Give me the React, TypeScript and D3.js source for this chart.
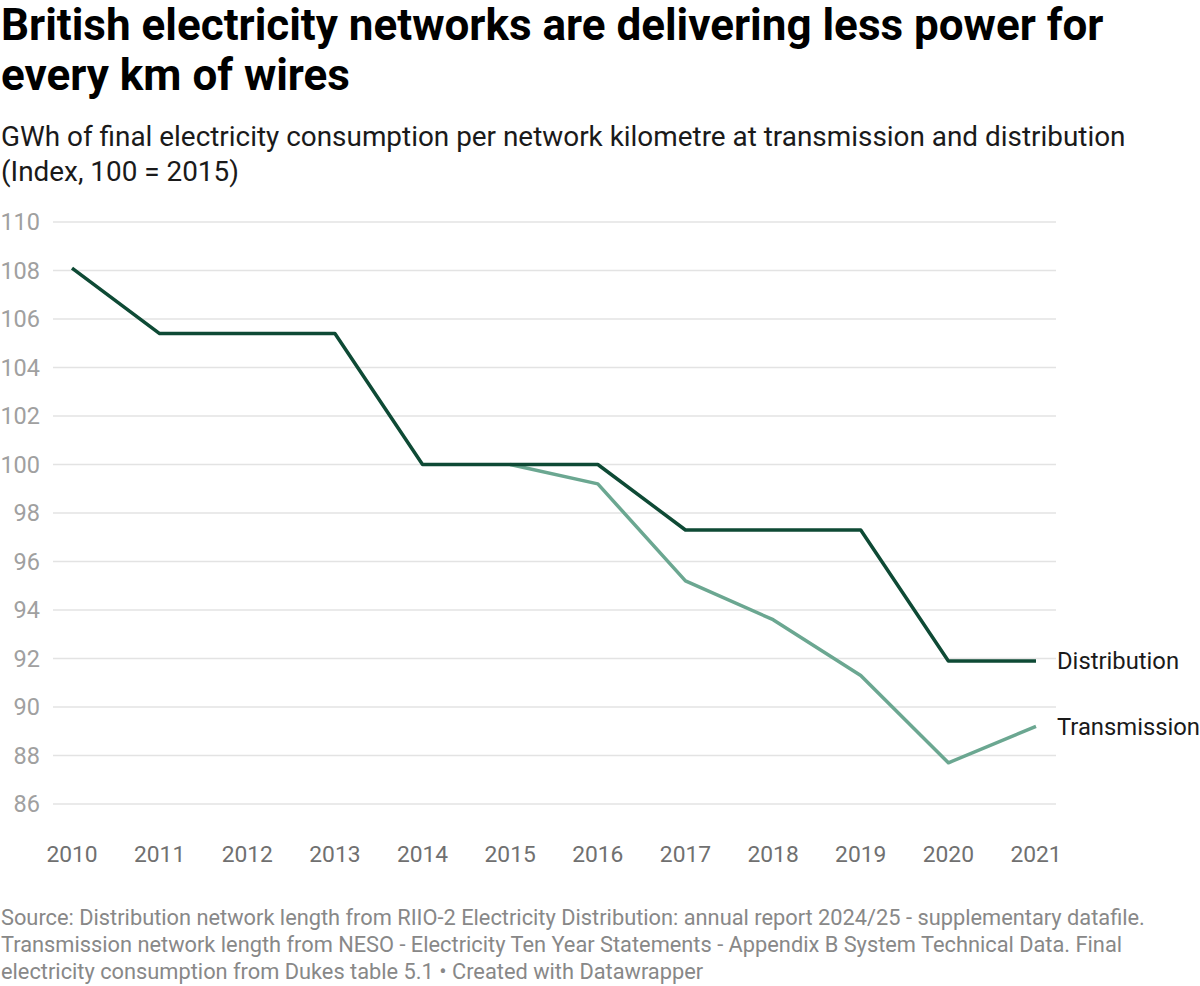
import React from 'react'
import * as d3 from 'd3'

const years = [2010, 2011, 2012, 2013, 2014, 2015, 2016, 2017, 2018, 2019, 2020, 2021]
const distribution = [108.1, 105.4, 105.4, 105.4, 100, 100, 100, 97.3, 97.3, 97.3, 91.9, 91.9]
const transmissionYears = [2015, 2016, 2017, 2018, 2019, 2020, 2021]
const transmission = [100, 99.2, 95.2, 93.6, 91.3, 87.7, 89.2]
const yTicks = [86, 88, 90, 92, 94, 96, 98, 100, 102, 104, 106, 108, 110]

const series = [
  { name: 'Distribution', years, values: distribution, color: '#0e4a35' },
  { name: 'Transmission', years: transmissionYears, values: transmission, color: '#6ba791' },
]

const App = () => {
  const width = 1200
  const height = 986
  const font = 'Roboto, sans-serif'

  const xScale = d3.scaleLinear().domain([2010, 2021]).range([72, 1036])
  const yScale = d3.scaleLinear().domain([86, 110]).range([804, 222])

  const line = d3
    .line<[number, number]>()
    .x((d) => xScale(d[0]))
    .y((d) => yScale(d[1]))

  return (
    <svg
      width={width}
      height={height}
      style={{ position: 'absolute', left: 0, top: 0, fontFamily: font }}
    >
      <rect width={width} height={height} fill='#fff' />
      <text x={1} y={40} fontSize={44} fontWeight={700} fill='#000'>
        British electricity networks are delivering less power for
      </text>
      <text x={1} y={90} fontSize={44} fontWeight={700} fill='#000'>
        every km of wires
      </text>
      <text x={1} y={146} fontSize={27.9} fill='#1a1a1a'>
        GWh of final electricity consumption per network kilometre at transmission and distribution
      </text>
      <text x={1} y={181} fontSize={27.9} fill='#1a1a1a'>
        (Index, 100 = 2015)
      </text>

      {yTicks.map((t) => (
        <g key={t}>
          <line
            x1={53}
            x2={1056}
            y1={yScale(t)}
            y2={yScale(t)}
            stroke='#e3e3e3'
            strokeWidth={1.3}
          />
          <text
            x={40}
            y={yScale(t)}
            dy='0.36em'
            textAnchor='end'
            fontSize={23.5}
            fill='#a0a0a0'
          >
            {t}
          </text>
        </g>
      ))}

      {years.map((y) => (
        <text
          key={y}
          x={xScale(y)}
          y={862}
          textAnchor='middle'
          fontSize={22.8}
          fill='#707070'
        >
          {y}
        </text>
      ))}

      {[...series].reverse().map((s) => {
        const pts = s.years.map((yr, i) => [yr, s.values[i]] as [number, number])
        const last = pts[pts.length - 1]
        return (
          <g key={s.name}>
            <path
              d={line(pts) || ''}
              fill='none'
              stroke={s.color}
              strokeWidth={3.5}
              strokeLinejoin='round'
            />
            <text
              x={xScale(last[0]) + 21}
              y={yScale(last[1])}
              dy='0.36em'
              fontSize={23.8}
              fill='#1a1a1a'
            >
              {s.name}
            </text>
          </g>
        )
      })}

      <text fontSize={21.8} fill='#888'>
        <tspan x={1} y={925}>
          Source: Distribution network length from RIIO-2 Electricity Distribution: annual report 2024/25 - supplementary datafile.
        </tspan>
        <tspan x={1} y={952}>
          Transmission network length from NESO - Electricity Ten Year Statements - Appendix B System Technical Data. Final
        </tspan>
        <tspan x={1} y={979}>
          electricity consumption from Dukes table 5.1 • Created with Datawrapper
        </tspan>
      </text>
    </svg>
  )
}

export default App
